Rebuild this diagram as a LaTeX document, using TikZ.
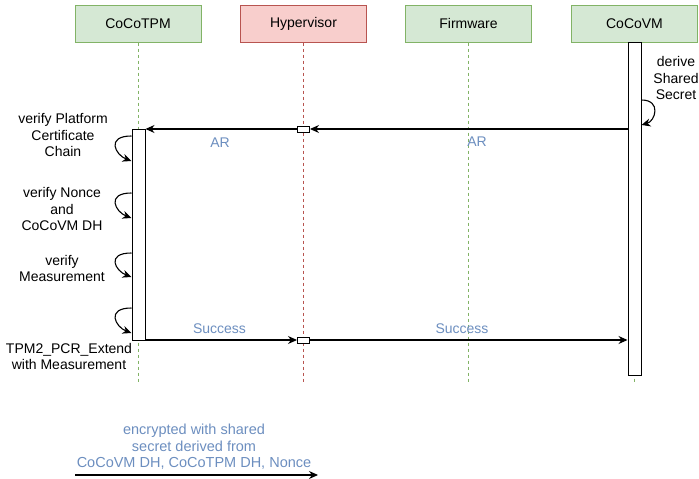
\documentclass[tikz,border=0pt]{standalone}
\usepackage{fontspec}
\setmainfont{Liberation Sans}
\usetikzlibrary{arrows.meta}

\definecolor{greenfill}{HTML}{D5E8D4}
\definecolor{greenline}{HTML}{82B366}
\definecolor{redfill}{HTML}{F8CECC}
\definecolor{redline}{HTML}{B85450}
\definecolor{labelblue}{HTML}{6C8EBF}

\tikzset{
  actor/.style={draw, line width=1pt, minimum width=126pt, minimum height=37pt,
    inner sep=0pt, font=\fontsize{14}{17}\selectfont},
  lifeline/.style={dashed, line width=0.8pt, dash pattern=on 3pt off 3pt},
  actbar/.style={draw, fill=white, line width=1pt, inner sep=0pt,
    minimum width=13pt, anchor=north},
  relay/.style={draw, fill=white, line width=1pt, inner sep=0pt,
    minimum width=12pt, minimum height=6pt},
  msg/.style={draw, line width=1.1pt, -{Stealth[length=9pt,width=8pt]}},
  selfloop/.style={draw, line width=1.1pt, -{Stealth[length=9pt,width=8pt]}},
  msglabel/.style={text=labelblue, font=\fontsize{14}{17}\selectfont, inner sep=0pt},
  note/.style={align=center, inner sep=0pt, font=\fontsize{14}{16.8}\selectfont},
}

\begin{document}
\begin{tikzpicture}[x=1pt, y=-1pt]
\useasboundingbox (0,0) rectangle (699,479);

% participants
\node[actor, fill=greenfill, draw=greenline] (tpm) at (138,23.5) {CoCoTPM};
\node[actor, fill=redfill, draw=redline] (hv) at (303.5,23.5) {Hypervisor};
\node[actor, fill=greenfill, draw=greenline] (fw) at (468.5,23.5) {Firmware};
\node[actor, fill=greenfill, draw=greenline] (vm) at (634.5,23.5) {CoCoVM};

% lifeline ends
\coordinate (tpmend) at (138,383);
\coordinate (hvend) at (303.5,383);
\coordinate (fwend) at (468.5,383);
\coordinate (vmend) at (634.5,383);

\draw[lifeline, greenline] (tpm.south) -- (tpmend);
\draw[lifeline, redline] (hv.south) -- (hvend);
\draw[lifeline, greenline] (fw.south) -- (fwend);
\draw[lifeline, greenline] (vm.south) -- (vmend);

% activation bars
\node[actbar, minimum height=333pt] (vmbar) at (634.5,42) {};
\node[actbar, minimum height=211pt] (tpmbar) at (138.5,129) {};

% relay points on the hypervisor lifeline
\node[relay] (hvar) at (303.5,129) {};
\node[relay] (hvok) at (303.5,340) {};

% AR message
\draw[msg] (vmbar.west |- hvar.center) -- (hvar.east);
\draw[msg] (hvar.west) -- (tpmbar.east |- hvar.center);
\node[msglabel] (ar1) at (220,143) {AR};
\node[msglabel] (ar2) at (477,142) {AR};

% Success message
\draw[msg] (tpmbar.east |- hvok.center) -- (hvok.west);
\draw[msg] (hvok.east) -- (vmbar.west |- hvok.center);
\node[msglabel] (ok1) at (219.5,329) {Success};
\node[msglabel] (ok2) at (462,329) {Success};

% CoCoVM self action
\draw[selfloop] ([yshift=-58pt]vmbar.north east) .. controls +(20,0) and +(14,-4) .. ([yshift=-83pt]vmbar.north east);
\node[note] (derive) at (676,78) {derive\\Shared\\Secret};

% CoCoTPM self actions
\draw[selfloop] ([yshift=-7pt]tpmbar.north west) .. controls +(-26,0) and +(-16,-6) .. ([yshift=-32pt]tpmbar.north west);
\draw[selfloop] ([yshift=-64pt]tpmbar.north west) .. controls +(-26,0) and +(-16,-6) .. ([yshift=-89pt]tpmbar.north west);
\draw[selfloop] ([yshift=-124pt]tpmbar.north west) .. controls +(-26,0) and +(-16,-6) .. ([yshift=-148pt]tpmbar.north west);
\draw[selfloop] ([yshift=-179pt]tpmbar.north west) .. controls +(-26,0) and +(-16,-6) .. ([yshift=-204pt]tpmbar.north west);

\node[note] (vcert) at (63,135) {verify Platform\\Certificate\\Chain};
\node[note] (vnonce) at (62,209) {verify Nonce\\and\\CoCoVM DH};
\node[note] (vmeas) at (62,268.5) {verify\\Measurement};
\node[note] (pcr) at (69,356.5) {TPM2\_PCR\_Extend\\with Measurement};

% legend
\coordinate (legA) at (75,475);
\coordinate (legB) at (318,475);
\draw[msg] (legA) -- (legB);
\node[note, text=labelblue, font=\fontsize{14.5}{16.5}\selectfont] (legend) at (194,447) {encrypted with shared\\secret derived from\\CoCoVM DH, CoCoTPM DH, Nonce};
\end{tikzpicture}
\end{document}
